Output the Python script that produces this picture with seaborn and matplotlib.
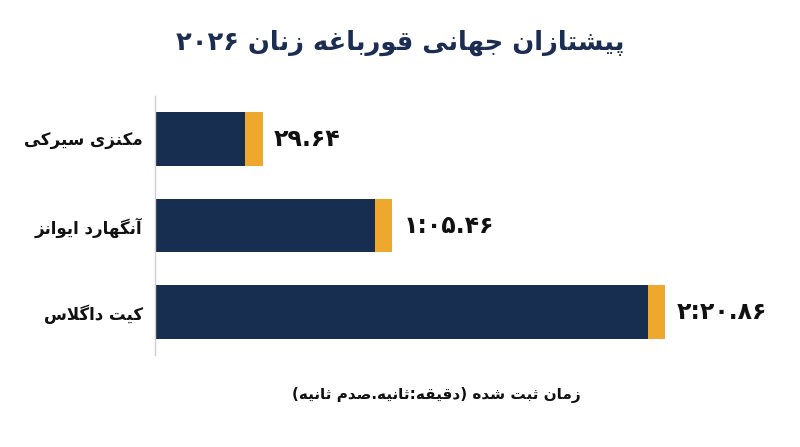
import re
import matplotlib
matplotlib.use("Agg")
import matplotlib.pyplot as plt
import seaborn as sns
import pandas as pd

# data
swimmers = ["مکنزی سیرکی", "آنگهارد ایوانز", "کیت داگلاس"]
seconds = [29.64, 65.46, 140.86]
time_labels = ["۲۹.۶۴", "۱:۰۵.۴۶", "۲:۲۰.۸۶"]
title_text = "پیشتازان جهانی قورباغه زنان ۲۰۲۶"
xlabel_text = "زمان ثبت شده (دقیقه:ثانیه.صدم ثانیه)"

NAVY = "#172e50"
ORANGE = "#efa82e"
CAP = 4.7  # width of the orange end cap, in seconds

# matplotlib has no arabic shaping, so map letters to presentation forms
DUAL = {
    "ب": (0xFE8F, 0xFE90, 0xFE91, 0xFE92), "پ": (0xFB56, 0xFB57, 0xFB58, 0xFB59),
    "ت": (0xFE95, 0xFE96, 0xFE97, 0xFE98), "ث": (0xFE99, 0xFE9A, 0xFE9B, 0xFE9C),
    "ج": (0xFE9D, 0xFE9E, 0xFE9F, 0xFEA0), "س": (0xFEB1, 0xFEB2, 0xFEB3, 0xFEB4),
    "ش": (0xFEB5, 0xFEB6, 0xFEB7, 0xFEB8), "ص": (0xFEB9, 0xFEBA, 0xFEBB, 0xFEBC),
    "غ": (0xFECD, 0xFECE, 0xFECF, 0xFED0), "ق": (0xFED5, 0xFED6, 0xFED7, 0xFED8),
    "ک": (0xFB8E, 0xFB8F, 0xFB90, 0xFB91), "گ": (0xFB92, 0xFB93, 0xFB94, 0xFB95),
    "ل": (0xFEDD, 0xFEDE, 0xFEDF, 0xFEE0), "م": (0xFEE1, 0xFEE2, 0xFEE3, 0xFEE4),
    "ن": (0xFEE5, 0xFEE6, 0xFEE7, 0xFEE8), "ه": (0xFEE9, 0xFEEA, 0xFEEB, 0xFEEC),
    "ی": (0xFBFC, 0xFBFD, 0xFBFE, 0xFBFF),
}
RIGHT = {
    "ا": (0xFE8D, 0xFE8E), "آ": (0xFE81, 0xFE82), "د": (0xFEA9, 0xFEAA),
    "ر": (0xFEAD, 0xFEAE), "ز": (0xFEAF, 0xFEB0), "و": (0xFEED, 0xFEEE),
}
LAM_ALEF = {"ا": (0xFEFB, 0xFEFC), "آ": (0xFEF5, 0xFEF6)}
MIRROR = {"(": ")", ")": "("}


def shape(text):
    res = []
    i = 0
    while i < len(text):
        c = text[i]
        prev = text[i - 1] if i > 0 else ""
        nxt = text[i + 1] if i + 1 < len(text) else ""
        jp = prev in DUAL
        if c == "ل" and nxt in LAM_ALEF:
            res.append(chr(LAM_ALEF[nxt][1 if jp else 0]))
            i += 2
            continue
        if c in DUAL:
            jn = nxt in DUAL or nxt in RIGHT
            idx = (3 if jn else 1) if jp else (2 if jn else 0)
            res.append(chr(DUAL[c][idx]))
        elif c in RIGHT:
            res.append(chr(RIGHT[c][1 if jp else 0]))
        else:
            res.append(c)
        i += 1
    return "".join(res)


def rtl(text):
    s = shape(text)[::-1]
    s = "".join(MIRROR.get(c, c) for c in s)
    return re.sub("[۰-۹0-9]+", lambda m: m.group(0)[::-1], s)


sns.set_theme(style="white")
plt.rcParams["font.family"] = ["DejaVu Sans"]

df = pd.DataFrame({
    "name": [rtl(s) for s in swimmers],
    "sec": seconds,
})
df["body"] = df["sec"] - CAP

fig = plt.figure(figsize=(8, 4.47), dpi=100)
ax = fig.add_axes([0.194, 0.206, 0.706, 0.579])

sns.barplot(data=df, x="sec", y="name", orient="h", color=ORANGE,
            width=0.62, saturation=1, linewidth=0, ax=ax)
sns.barplot(data=df, x="body", y="name", orient="h", color=NAVY,
            width=0.62, saturation=1, linewidth=0, ax=ax)

for i, (v, lab) in enumerate(zip(seconds, time_labels)):
    ax.annotate(lab, xy=(v, i), xytext=(11, 0), textcoords="offset pixels",
                ha="left", va="center", fontsize=17, fontweight="bold",
                color="#111111")

ax.set_xlim(0, 156)
ax.set_ylim(2.5, -0.5)
ax.set_xticks([])
ax.set_ylabel("")
ax.set_xlabel("")
ax.tick_params(axis="y", length=0, pad=9)
for t in ax.get_yticklabels():
    t.set_fontsize(12)
    t.set_fontweight("bold")
    t.set_color("#111111")
for s in ["top", "right", "bottom"]:
    ax.spines[s].set_visible(False)
ax.spines["left"].set_color("#d0d0d0")
ax.spines["left"].set_linewidth(1)

fig.text(0.5, 0.903, rtl(title_text), ha="center", va="center",
         fontsize=18.5, fontweight="bold", color="#1b2d52")
fig.text(0.546, 0.116, rtl(xlabel_text), ha="center", va="center",
         fontsize=11, fontweight="bold", color="#111111")

fig.savefig("out.png", dpi=100)
